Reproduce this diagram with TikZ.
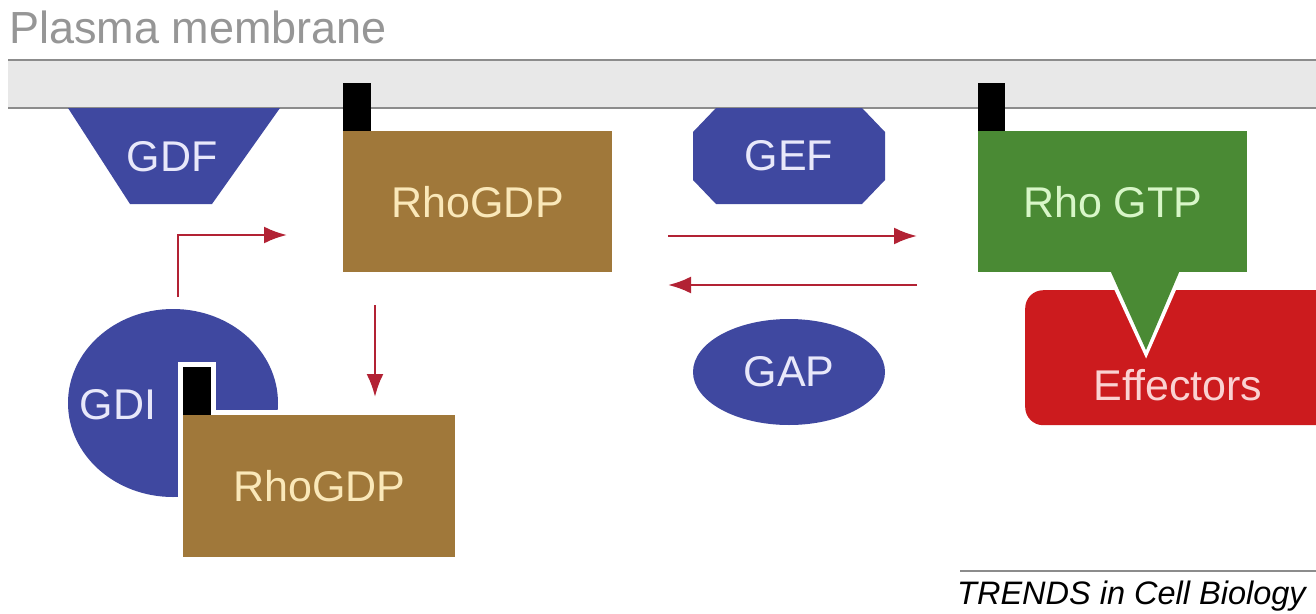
\documentclass[tikz,border=0pt]{standalone}
\usepackage{fontspec}
\setmainfont{Liberation Sans}
\usetikzlibrary{arrows.meta,shapes.geometric}
\definecolor{memfill}{RGB}{232,232,232}
\definecolor{memline}{RGB}{140,140,140}
\definecolor{memtext}{RGB}{150,150,150}
\definecolor{blueC}{RGB}{63,72,160}
\definecolor{bluetext}{RGB}{232,232,250}
\definecolor{brownC}{RGB}{160,120,58}
\definecolor{browntext}{RGB}{250,232,185}
\definecolor{greenC}{RGB}{74,138,52}
\definecolor{greentext}{RGB}{216,246,200}
\definecolor{redC}{RGB}{204,27,30}
\definecolor{redtext}{RGB}{250,210,210}
\definecolor{arrowred}{RGB}{178,34,52}
\tikzset{
  lbl/.style={font=\fontsize{43}{50}\selectfont, inner sep=0pt},
  arr/.style={draw=arrowred, line width=2.5pt, -{Latex[length=23pt,width=17pt]}},
}
\begin{document}
\begin{tikzpicture}[x=1pt,y=-1pt]
\useasboundingbox (0,0) rectangle (1316,613);
\fill[white] (0,0) rectangle (1316,613);

% plasma membrane
\node[anchor=base west, text=memtext, font=\fontsize{45}{52}\selectfont, inner sep=0pt] (pm) at (9,43) {Plasma membrane};
\fill[memfill] (8,60) rectangle (1316,108);
\draw[memline, line width=2pt] (8,60) -- (1316,60);
\draw[memline, line width=2pt] (8,108) -- (1316,108);

% GDF trapezoid
\fill[blueC] (68,108) -- (280,108) -- (212,204) -- (130,204) -- cycle;
\node[lbl, text=bluetext] (gdf) at (172,157) {GDF};

% upper RhoGDP
\fill[black] (343,83) rectangle (371,131);
\node[fill=brownC, anchor=north west, inner sep=0pt, minimum width=269pt, minimum height=141pt, lbl, text=browntext] (rho1) at (343,131) {RhoGDP};

% GEF chamfered box
\fill[blueC] (716,108) -- (862,108) -- (885,132) -- (885,180) -- (862,204) -- (716,204) -- (693,180) -- (693,132) -- cycle;
\node[lbl, text=bluetext] (gef) at (789,156) {GEF};

% GAP ellipse
\node[ellipse, fill=blueC, minimum width=192pt, minimum height=106pt, inner sep=0pt, lbl, text=bluetext] (gap) at (789,372) {GAP};

% Effectors
\node[fill=redC, rounded corners=18pt, anchor=north west, inner sep=0pt, minimum width=330pt, minimum height=135pt] (eff) at (1025,290) {};
\node[lbl, text=redtext] (efftxt) at (1178,385) {Effectors};

% Rho GTP with pointer
\draw[white, line width=7pt, line join=miter] (1110,272) -- (1146,350) -- (1180,272);
\fill[greenC] (1110,270) -- (1146,350) -- (1180,270) -- cycle;
\fill[black] (978,83) rectangle (1005,131);
\node[fill=greenC, anchor=north west, inner sep=0pt, minimum width=269pt, minimum height=141pt, lbl, text=greentext] (rhogtp) at (978,131) {Rho GTP};

% GDI
\node[ellipse, fill=blueC, minimum width=210pt, minimum height=188pt, inner sep=0pt] (gdi) at (173,403) {};
\node[lbl, text=bluetext] (gditxt) at (118,405) {GDI};

% lower RhoGDP with white outline
\draw[white, line width=10pt, line join=miter] (183,367) -- (211,367) -- (211,415) -- (455,415) -- (455,557) -- (183,557) -- cycle;
\fill[black] (183,367) rectangle (211,415);
\node[fill=brownC, anchor=north west, inner sep=0pt, minimum width=272pt, minimum height=142pt, lbl, text=browntext] (rho2) at (183,415) {RhoGDP};

% arrows
\coordinate (a1s) at (178,297);
\coordinate (a1e) at (287,235);
\draw[arr] (a1s) |- (a1e);
\coordinate (a2s) at (375,305);
\coordinate (a2e) at (375,397);
\draw[arr] (a2s) -- (a2e);
\coordinate (a3s) at (668,236);
\coordinate (a3e) at (917,236);
\draw[arr] (a3s) -- (a3e);
\coordinate (a4s) at (917,285);
\coordinate (a4e) at (668,285);
\draw[arr] (a4s) -- (a4e);

% credit
\draw[memline, line width=1.5pt] (960,571) -- (1316,571);
\node[anchor=base west, inner sep=0pt, font=\fontsize{32.5}{40}\selectfont\itshape] (credit) at (957,604) {TRENDS in Cell Biology};
\end{tikzpicture}
\end{document}
